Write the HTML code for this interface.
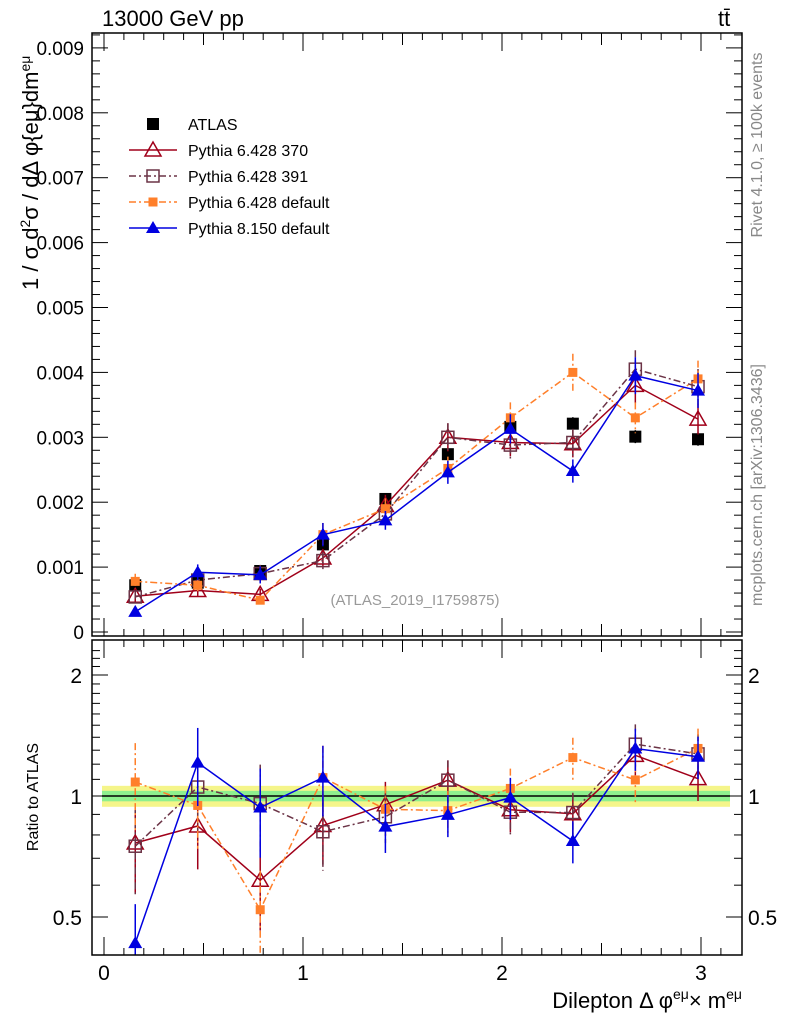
<!DOCTYPE html>
<html><head><meta charset="utf-8"><style>
body{margin:0;background:#fff;}
svg text{font-family:"Liberation Sans",sans-serif;}
</style></head><body>
<svg id="c" width="786" height="1024" xmlns="http://www.w3.org/2000/svg">
<rect width="786" height="1024" fill="#fff"/>
<text x="102" y="26" font-size="22">13000 GeV pp</text>
<text x="718" y="26" font-size="22">tt̄</text>
<text transform="translate(762,145) rotate(-90)" text-anchor="middle" font-size="16" fill="#888">Rivet 4.1.0, ≥ 100k events</text>
<text transform="translate(762,485) rotate(-90)" text-anchor="middle" font-size="16" fill="#888">mcplots.cern.ch [arXiv:1306.3436]</text>
<text transform="translate(38,290) rotate(-90)" font-size="22">1 / σ  d<tspan font-size="14" dy="-8">2</tspan><tspan dy="8">σ / dΔ φ{eμ}dm</tspan><tspan font-size="14" dy="-8">eμ</tspan></text>
<text transform="translate(38,797) rotate(-90)" text-anchor="middle" font-size="16">Ratio to ATLAS</text>
<text x="415" y="605" text-anchor="middle" font-size="15" fill="#999">(ATLAS_2019_I1759875)</text>
<text x="742" y="1008" text-anchor="end" font-size="22">Dilepton Δ φ<tspan font-size="14" dy="-9">eμ</tspan><tspan dy="9">× m</tspan><tspan font-size="14" dy="-9">eμ</tspan></text>
<g id="main"></g><g id="ratio"></g><g id="axes"></g><g id="legend"></g>
</svg>
<script>
const xs=[0.157,0.471,0.785,1.100,1.414,1.728,2.042,2.356,2.670,2.985];
const atlas=[0.00072,0.00076,0.00094,0.00135,0.00205,0.00274,0.00316,0.00321,0.00301,0.00297];
const atlasErr=[0.00005,0.00005,0.00006,0.00008,0.00009,0.0001,0.0001,0.0001,0.0001,0.0001];
const p370=[0.00055,0.00064,0.00058,0.00114,0.00195,0.00300,0.00292,0.00290,0.00380,0.00328];
const p391=[0.00054,0.00080,0.00090,0.00110,0.00182,0.00300,0.00288,0.00292,0.00405,0.00378];
const pdef=[0.00078,0.00072,0.00049,0.00150,0.00190,0.00252,0.00330,0.00400,0.00330,0.00390];
const p8=[0.00031,0.00092,0.00088,0.00150,0.00172,0.00246,0.00313,0.00248,0.00395,0.00372];
const relErr=[0.25,0.22,0.25,0.2,0.14,0.12,0.12,0.12,0.12,0.12];
const yTicks=[0,0.001,0.002,0.003,0.004,0.005,0.006,0.007,0.008,0.009];
const yLabels=["0","0.001","0.002","0.003","0.004","0.005","0.006","0.007","0.008","0.009"];
const xTicks=[0,1,2,3];
const rTicks=[0.5,1,2];
const L=92,R=742,T=33,MB=636,RT=640,RB=955;
const X=v=>104+v*199;
const Y=v=>632-v*64900;
const YR=r=>796-Math.log2(r)*121;
const NS="http://www.w3.org/2000/svg";
function mk(p,t,a){const e=document.createElementNS(NS,t);for(const k in a)e.setAttribute(k,a[k]);p.appendChild(e);return e;}
const main=document.getElementById('main'),ratio=document.getElementById('ratio'),axes=document.getElementById('axes'),leg=document.getElementById('legend');
let b=mk(ratio,'rect',{x:L+10,y:YR(1.06),width:R-L-22,height:YR(0.94)-YR(1.06),fill:'#f5f58a'});


b=mk(ratio,'rect',{x:L+10,y:YR(1.03),width:R-L-22,height:YR(0.97)-YR(1.03),fill:'#8ef08e'});


let ln=mk(ratio,'line',{x1:L+10,x2:R-12,y1:YR(1),y2:YR(1),stroke:'#000','stroke-width':1.5});


function marker(g,type,x,y,col){
 if(type==='sq')return mk(g,'rect',{x:x-6,y:y-6,width:12,height:12,fill:col});
 if(type==='osq')return mk(g,'rect',{x:x-6,y:y-6,width:12,height:12,fill:'#fff','fill-opacity':0,stroke:col,'stroke-width':1.5});
 if(type==='fsq')return mk(g,'rect',{x:x-4.5,y:y-4.5,width:9,height:9,fill:col});
 if(type==='otri')return mk(g,'polygon',{points:`${x},${y-8} ${x-8},${y+6} ${x+8},${y+6}`,fill:'none',stroke:col,'stroke-width':1.5});
 return mk(g,'polygon',{points:`${x},${y-7} ${x-7},${y+5} ${x+7},${y+5}`,fill:col});
}
const series=[
 {name:'pythia-6428-370',vals:p370,col:'#a0001a',dash:'',m:'otri',label:'Pythia 6.428 370'},
 {name:'pythia-6428-391',vals:p391,col:'#6b3346',dash:'7,3,2,3',m:'osq',label:'Pythia 6.428 391'},
 {name:'pythia-6428-default',vals:pdef,col:'#ff7f2a',dash:'7,3,2,3',m:'fsq',label:'Pythia 6.428 default'},
 {name:'pythia-8150-default',vals:p8,col:'#0000e0',dash:'',m:'tri',label:'Pythia 8.150 default'}];
function draw(g,s,Yf,vals,errs,clipTop,clipBot){
 const pts=xs.map((x,i)=>X(x)+','+Yf(vals[i])).join(' ');
 const pl=mk(g,'polyline',{points:pts,fill:'none',stroke:s.col,'stroke-width':1.5,'stroke-dasharray':s.dash});
 
 
 xs.forEach((x,i)=>{
  const y1=Math.max(clipTop,Yf(vals[i]+errs[i])),y2=Math.min(clipBot,Yf(Math.max(vals[i]-errs[i],1e-9)));
  const e=mk(g,'line',{x1:X(x),x2:X(x),y1:y1,y2:y2,stroke:s.col,'stroke-width':1.5,'stroke-dasharray':s.dash});
  
  
  const m=marker(g,s.m,X(x),Yf(vals[i]),s.col);
  
  
 });
}
xs.forEach((x,i)=>{
 const e=mk(main,'line',{x1:X(x),x2:X(x),y1:Y(atlas[i]+atlasErr[i]),y2:Y(atlas[i]-atlasErr[i]),stroke:'#000','stroke-width':1.5});
 
 
 const m=marker(main,'sq',X(x),Y(atlas[i]),'#000');
 
 
});
series.forEach(s=>{
 draw(main,s,Y,s.vals,s.vals.map((v,i)=>v*relErr[i]*0.6),T,MB);
 const r=s.vals.map((v,i)=>v/atlas[i]);
 const re=r.map((v,i)=>v*relErr[i]);
 draw(ratio,s,YR,r,re,RT,RB);
});
function frame(t,bot,name){const f=mk(axes,'rect',{x:L,y:t,width:R-L,height:bot-t,fill:'none',stroke:'#000','stroke-width':1.5});
 
 }
frame(T,MB,'main-plot-frame');frame(RT,RB,'ratio-plot-frame');
for(let v=0;v<=0.0092;v+=0.0002){const big=Math.abs(v*1000-Math.round(v*1000))<1e-6;const y=Y(v);if(y<T||y>MB)continue;
 const w=big?16:8;mk(axes,'line',{x1:L,x2:L+w,y1:y,y2:y,stroke:'#000'});mk(axes,'line',{x1:R-w,x2:R,y1:y,y2:y,stroke:'#000'});}
yTicks.forEach((v,i)=>{const t=mk(axes,'text',{x:L-8,y:Y(v)+7,'text-anchor':'end','font-size':19});t.textContent=yLabels[i];
 
 });
for(let v=0;v<=3.2;v+=0.1){const big=Math.abs(v-Math.round(v))<1e-6;const mid=Math.abs(v*2-Math.round(v*2))<1e-6;const w=big?18:(mid?12:7);const x=X(v);
 mk(axes,'line',{x1:x,x2:x,y1:MB,y2:MB-w,stroke:'#000'});mk(axes,'line',{x1:x,x2:x,y1:T,y2:T+w,stroke:'#000'});
 mk(axes,'line',{x1:x,x2:x,y1:RB,y2:RB-w,stroke:'#000'});mk(axes,'line',{x1:x,x2:x,y1:RT,y2:RT+w,stroke:'#000'});}
xTicks.forEach(v=>{const t=mk(axes,'text',{x:X(v),y:980,'text-anchor':'middle','font-size':21});t.textContent=v;
 
 });
for(let r=0.4;r<=2.4;r+=0.1){const y=YR(r);if(y<RT||y>RB)continue;const big=rTicks.some(q=>Math.abs(q-r)<1e-6);const w=big?16:8;
 mk(axes,'line',{x1:L,x2:L+w,y1:y,y2:y,stroke:'#000'});mk(axes,'line',{x1:R-w,x2:R,y1:y,y2:y,stroke:'#000'});}
rTicks.forEach(r=>{let t=mk(axes,'text',{x:L-10,y:YR(r)+8,'text-anchor':'end','font-size':21});t.textContent=r;
 
 
 t=mk(axes,'text',{x:R+6,y:YR(r)+8,'font-size':21});t.textContent=r;
 
 });
const ly=[124,150,176,202,228];
let a=marker(leg,'sq',153,ly[0],'#000');


let at=mk(leg,'text',{x:188,y:ly[0]+6,'font-size':16});at.textContent='ATLAS';


series.forEach((s,i)=>{const y=ly[i+1];
 mk(leg,'line',{x1:129,x2:177,y1:y,y2:y,stroke:s.col,'stroke-width':1.5,'stroke-dasharray':s.dash});
 marker(leg,s.m,153,y,s.col);
 const t=mk(leg,'text',{x:188,y:y+6,'font-size':16});t.textContent=s.label;
 
 });
</script>
</body></html>
